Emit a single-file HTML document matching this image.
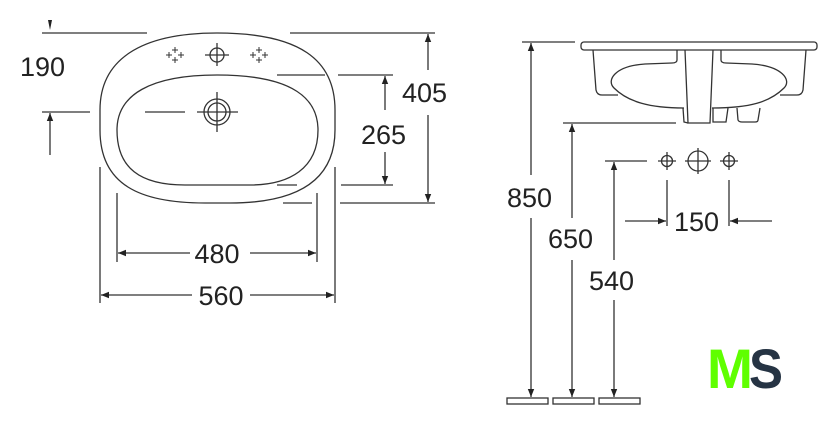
<!DOCTYPE html>
<html><head><meta charset="utf-8"><style>
html,body{margin:0;padding:0;background:#fff;}
svg{display:block;}
text{font-family:"Liberation Sans",sans-serif;font-size:27px;fill:#222;}
</style></head><body>
<svg width="840" height="435" viewBox="0 0 840 435" xmlns="http://www.w3.org/2000/svg">
<defs>
<marker id="a" viewBox="0 0 10 10" refX="10" refY="5" markerWidth="10" markerHeight="8" orient="auto" markerUnits="userSpaceOnUse"><path d="M0,1 L10,5 L0,9 Z" fill="#222"/></marker>
</defs>
<g stroke="#333" stroke-width="1.3" fill="none">
<line x1="42" y1="33" x2="147" y2="33"/>
<line x1="290" y1="33" x2="435" y2="33"/>
<path d="M48 20 L52 20 L50 30 Z" fill="#222" stroke="none"/>
<path d="M 217 33 C 300 33 335 60 335 110 L 335 130 C 335 185 290 203 230 203 L 205 203 C 140 203 100 185 100 130 L 100 110 C 100 60 140 33 217 33 Z"/>
<path d="M 217 75 C 295 75 318 100 318 130 C 318 168 290 185 250 185 L 185 185 C 140 185 117 168 117 130 C 117 95 150 75 217 75 Z"/>
<circle cx="217" cy="112" r="13"/><circle cx="217" cy="112" r="9"/>
<line x1="197" y1="112" x2="238" y2="112"/><line x1="217" y1="92" x2="217" y2="132"/>
<line x1="145" y1="112" x2="185" y2="112"/>
<circle cx="217" cy="55" r="7"/><line x1="205" y1="55" x2="229" y2="55"/><line x1="217" y1="43" x2="217" y2="66"/>
<g stroke-width="1">
<path d="M166 55h6M169 52v6M178 55h6M181 52v6M172 50h6M175 47v6M172 60h6M175 57v6"/>
<path d="M250 55h6M253 52v6M262 55h6M265 52v6M256 50h6M259 47v6M256 60h6M259 57v6"/>
</g>
<line x1="42" y1="112" x2="90" y2="112"/>
<line x1="50" y1="155" x2="50" y2="113" marker-end="url(#a)"/>
<line x1="428" y1="70" x2="428" y2="34" marker-end="url(#a)"/>
<line x1="428" y1="115" x2="428" y2="202" marker-end="url(#a)"/>
<line x1="340" y1="203" x2="435" y2="203"/><line x1="283" y1="203" x2="312" y2="203"/>
<line x1="277" y1="75" x2="325" y2="75"/><line x1="338" y1="75" x2="393" y2="75"/>
<line x1="277" y1="185" x2="297" y2="185"/><line x1="341" y1="185" x2="393" y2="185"/>
<line x1="385" y1="110" x2="385" y2="76" marker-end="url(#a)"/>
<line x1="385" y1="152" x2="385" y2="184" marker-end="url(#a)"/>
<line x1="117" y1="193" x2="117" y2="262"/><line x1="317" y1="193" x2="317" y2="262"/>
<line x1="190" y1="253" x2="118" y2="253" marker-end="url(#a)"/>
<line x1="250" y1="253" x2="316" y2="253" marker-end="url(#a)"/>
<line x1="100" y1="167" x2="100" y2="303"/><line x1="335" y1="167" x2="335" y2="303"/>
<line x1="192" y1="295" x2="101" y2="295" marker-end="url(#a)"/>
<line x1="250" y1="295" x2="334" y2="295" marker-end="url(#a)"/>
<line x1="522" y1="42" x2="575" y2="42"/>
<rect x="581" y="42" width="236" height="8" rx="3"/>
<path d="M593 50 L596 90 Q597 95 602 95 L618 95"/>
<path d="M806 50 L803 90 Q802 95 797 95 L780 95"/>
<path d="M677 50 L677 60 Q677 63 672 63 L645 64 C615 66 606 80 614 88 C628 102 650 108 684 108"/>
<path d="M721 50 L721 60 Q721 63 726 63 L752 64 C782 66 792 80 784 88 C770 102 750 108 712 108"/>
<path d="M685 50 L688 123 L710 123 L713 50"/>
<path d="M683 108 L684 122 L688 123"/>
<path d="M713 108 L713 122 L726 122 L728 108"/>
<path d="M737 108 L738 120 Q739 122 742 122 L755 122 Q758 122 758 120 L760 108"/>
<line x1="531" y1="175" x2="531" y2="43" marker-end="url(#a)"/>
<line x1="531" y1="218" x2="531" y2="397" marker-end="url(#a)"/>
<line x1="563" y1="123" x2="676" y2="123"/>
<line x1="572" y1="218" x2="572" y2="124" marker-end="url(#a)"/>
<line x1="572" y1="260" x2="572" y2="397" marker-end="url(#a)"/>
<line x1="605" y1="161" x2="647" y2="161"/>
<line x1="614" y1="260" x2="614" y2="162" marker-end="url(#a)"/>
<line x1="614" y1="300" x2="614" y2="397" marker-end="url(#a)"/>
<circle cx="667" cy="161" r="5.5"/><path d="M658 161h18M667 152v18"/>
<circle cx="698" cy="161" r="10"/><path d="M685 161h26M698 148v26"/>
<circle cx="729" cy="161" r="5.5"/><path d="M720 161h18M729 152v18"/>
<line x1="667" y1="180" x2="667" y2="226"/><line x1="729" y1="180" x2="729" y2="226"/>
<line x1="625" y1="221" x2="666" y2="221" marker-end="url(#a)"/>
<line x1="772" y1="221" x2="730" y2="221" marker-end="url(#a)"/>
<rect x="507" y="398" width="41" height="6"/>
<rect x="553" y="398" width="41" height="6"/>
<rect x="599" y="398" width="41" height="6"/>
</g>
<text x="20" y="76">190</text>
<text x="402" y="102">405</text>
<text x="361" y="144">265</text>
<text x="217" y="263" text-anchor="middle">480</text>
<text x="221" y="305" text-anchor="middle">560</text>
<text x="507" y="207">850</text>
<text x="548" y="248">650</text>
<text x="589" y="290">540</text>
<text x="674" y="231">150</text>
<text x="707" y="388" style="font-size:56px;font-weight:bold;fill:#5fff00" textLength="46" lengthAdjust="spacingAndGlyphs">M</text>
<text x="749" y="388" style="font-size:56px;font-weight:bold;fill:#263444" textLength="34" lengthAdjust="spacingAndGlyphs">S</text>
</svg>
</body></html>
